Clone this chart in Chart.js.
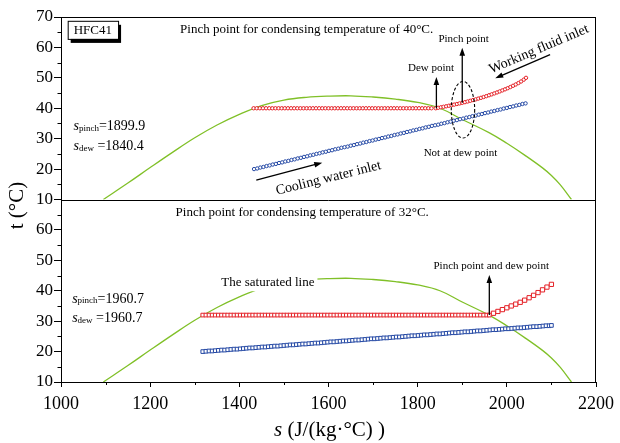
<!DOCTYPE html>
<html>
<head>
<meta charset="utf-8">
<script src="https://cdn.jsdelivr.net/npm/chart.js@4.4.1/dist/chart.umd.min.js"></script>
<style>
  html, body { margin: 0; padding: 0; background: #fff; }
</style>
</head>
<body>
<canvas id="chart" width="620" height="443"></canvas>
<script>
// saturated line (same curve in both panels)
const satS = [1095, 1150, 1200, 1250, 1300, 1350, 1400, 1450, 1500, 1550, 1600, 1650, 1700, 1750, 1800, 1850, 1900, 1960, 2000, 2040, 2080, 2100, 2120, 2145]
const satT = [10, 15.4, 20.5, 25.5, 30.3, 34.5, 38.0, 40.9, 42.7, 43.6, 44.0, 44.1, 43.7, 43.0, 41.9, 40.0, 36.3, 32.0, 28.5, 24.6, 20.4, 17.9, 14.8, 10]

// top panel: condensing at 40 C
const topCond = 40
const topFlatS = [1432, 1439, 1446, 1453, 1460, 1467, 1474, 1481, 1488, 1495, 1502, 1509, 1516, 1523, 1530, 1537, 1544, 1551, 1558, 1565,
  1572, 1579, 1586, 1593, 1600, 1607, 1614, 1621, 1628, 1635, 1642, 1649, 1656, 1663, 1670, 1677, 1684, 1691, 1698, 1705,
  1712, 1719, 1726, 1733, 1740, 1747, 1754, 1761, 1768, 1775, 1782, 1789, 1796, 1803, 1810, 1817, 1824, 1831, 1840.4]
const topSupS = [1846, 1852, 1858, 1864, 1870, 1876, 1882, 1888, 1894, 1900, 1906, 1912, 1918, 1924, 1930, 1936, 1942, 1948, 1954, 1960,
  1966, 1972, 1978, 1984, 1990, 1996, 2002, 2008, 2014, 2020, 2026, 2032, 2038, 2043]
const topSupT = [40.15, 40.31, 40.48, 40.65, 40.83, 41.01, 41.2, 41.39, 41.59, 41.79, 42.0, 42.22, 42.45, 42.68, 42.92, 43.17, 43.43, 43.7, 43.98, 44.27,
  44.57, 44.88, 45.2, 45.53, 45.87, 46.22, 46.59, 46.98, 47.39, 47.82, 48.28, 48.8, 49.4, 50.0]
const topWaterS = [1433, 1440, 1447, 1454, 1461, 1468, 1475, 1482, 1489, 1496, 1503, 1510, 1517, 1524, 1531, 1538, 1545, 1552, 1559, 1566,
  1573, 1580, 1587, 1594, 1601, 1608, 1615, 1622, 1629, 1636, 1643, 1650, 1657, 1664, 1671, 1678, 1685, 1692, 1699, 1706,
  1713, 1720, 1727, 1734, 1741, 1748, 1755, 1762, 1769, 1776, 1783, 1790, 1797, 1804, 1811, 1818, 1825, 1832, 1839, 1846,
  1853, 1860, 1867, 1874, 1881, 1888, 1895, 1902, 1909, 1916, 1923, 1930, 1937, 1944, 1951, 1958, 1965, 1972, 1979, 1986,
  1993, 2000, 2007, 2014, 2021, 2028, 2035, 2042]
const topWaterT = [20.0, 20.2, 20.5, 20.7, 21.0, 21.2, 21.5, 21.7, 22.0, 22.2, 22.5, 22.7, 23.0, 23.2, 23.5, 23.7, 24.0, 24.2, 24.5, 24.7,
  25.0, 25.2, 25.5, 25.7, 26.0, 26.2, 26.5, 26.7, 27.0, 27.2, 27.4, 27.7, 27.9, 28.2, 28.4, 28.7, 28.9, 29.2, 29.4, 29.7,
  29.9, 30.2, 30.4, 30.7, 30.9, 31.2, 31.4, 31.7, 31.9, 32.2, 32.4, 32.7, 32.9, 33.2, 33.4, 33.7, 33.9, 34.2, 34.4, 34.6,
  34.9, 35.1, 35.4, 35.6, 35.9, 36.1, 36.4, 36.6, 36.9, 37.1, 37.4, 37.6, 37.9, 38.1, 38.4, 38.6, 38.9, 39.1, 39.4, 39.6,
  39.9, 40.1, 40.4, 40.6, 40.9, 41.1, 41.4, 41.6]

// bottom panel: condensing at 32 C
const botCond = 32
const botFlatS = [1318, 1325, 1332, 1339, 1346, 1353, 1360, 1367, 1374, 1381, 1388, 1395, 1402, 1409, 1416, 1423, 1430, 1437, 1444, 1451,
  1458, 1465, 1472, 1479, 1486, 1493, 1500, 1507, 1514, 1521, 1528, 1535, 1542, 1549, 1556, 1563, 1570, 1577, 1584, 1591,
  1598, 1605, 1612, 1619, 1626, 1633, 1640, 1647, 1654, 1661, 1668, 1675, 1682, 1689, 1696, 1703, 1710, 1717, 1724, 1731,
  1738, 1745, 1752, 1759, 1766, 1773, 1780, 1787, 1794, 1801, 1808, 1815, 1822, 1829, 1836, 1843, 1850, 1857, 1864, 1871,
  1878, 1885, 1892, 1899, 1906, 1913, 1920, 1927, 1934, 1941, 1948, 1955, 1960.7]
const botSupS = [1970, 1980, 1990, 2000, 2010, 2020, 2030, 2040, 2050, 2060, 2070, 2080, 2090, 2100]
const botSupT = [32.6, 33.2, 33.8, 34.4, 35.0, 35.6, 36.2, 36.9, 37.7, 38.5, 39.4, 40.3, 41.2, 42.1]
const botWaterS = [1318, 1325, 1332, 1339, 1346, 1353, 1360, 1367, 1374, 1381, 1388, 1395, 1402, 1409, 1416, 1423, 1430, 1437, 1444, 1451,
  1458, 1465, 1472, 1479, 1486, 1493, 1500, 1507, 1514, 1521, 1528, 1535, 1542, 1549, 1556, 1563, 1570, 1577, 1584, 1591,
  1598, 1605, 1612, 1619, 1626, 1633, 1640, 1647, 1654, 1661, 1668, 1675, 1682, 1689, 1696, 1703, 1710, 1717, 1724, 1731,
  1738, 1745, 1752, 1759, 1766, 1773, 1780, 1787, 1794, 1801, 1808, 1815, 1822, 1829, 1836, 1843, 1850, 1857, 1864, 1871,
  1878, 1885, 1892, 1899, 1906, 1913, 1920, 1927, 1934, 1941, 1948, 1955, 1962, 1969, 1976, 1983, 1990, 1997, 2004, 2011,
  2018, 2025, 2032, 2039, 2046, 2053, 2060, 2067, 2074, 2081, 2088, 2095, 2100]
const botWaterT = [20.0, 20.1, 20.2, 20.2, 20.3, 20.4, 20.5, 20.5, 20.6, 20.7, 20.8, 20.8, 20.9,
  21.0, 21.1, 21.2, 21.2, 21.3, 21.4, 21.5, 21.5, 21.6, 21.7, 21.8, 21.8, 21.9,
  22.0, 22.1, 22.2, 22.2, 22.3, 22.4, 22.5, 22.5, 22.6, 22.7, 22.8, 22.8, 22.9,
  23.0, 23.1, 23.2, 23.2, 23.3, 23.4, 23.5, 23.5, 23.6, 23.7, 23.8, 23.8, 23.9,
  24.0, 24.1, 24.2, 24.2, 24.3, 24.4, 24.5, 24.5, 24.6, 24.7, 24.8, 24.8, 24.9,
  25.0, 25.1, 25.2, 25.2, 25.3, 25.4, 25.5, 25.5, 25.6, 25.7, 25.8, 25.8, 25.9,
  26.0, 26.1, 26.2, 26.2, 26.3, 26.4, 26.5, 26.5, 26.6, 26.7, 26.8, 26.8, 26.9,
  27.0, 27.1, 27.2, 27.2, 27.3, 27.4, 27.5, 27.5, 27.6, 27.7, 27.8, 27.8, 27.9,
  28.0, 28.1, 28.2, 28.2, 28.3, 28.4, 28.5, 28.5, 28.6]

const sTicks = [1000, 1200, 1400, 1600, 1800, 2000, 2200]
const tTicks = [10, 20, 30, 40, 50, 60, 70]

const pinchTop = '1899.9', dewTop = '1840.4'
const pinchBot = '1960.7', dewBot = '1960.7'

const RED = 'rgb(228,32,38)'
const BLUE = 'rgb(36,72,164)'
const GREEN = 'rgb(128,192,40)'
const SERIF = '"Liberation Serif", "DejaVu Serif", serif'

const pts = (xs, ys) => xs.map((s, i) => ({ x: s, y: Array.isArray(ys) ? ys[i] : ys }))

const markerSet = (data, axis, color, style, r) => ({
    data: data,
    yAxisID: axis,
    showLine: false,
    pointStyle: style,
    pointRadius: r,
    pointBorderWidth: 1,
    pointBorderColor: color,
    pointBackgroundColor: '#fff',
    order: 1
})

const satSet = (axis) => ({
    data: pts(satS, satT),
    yAxisID: axis,
    showLine: true,
    borderColor: GREEN,
    borderWidth: 1.3,
    pointRadius: 0,
    tension: 0.4,
    order: 2
})

// helpers for the annotation plugin
function arrow(ctx, x1, y1, x2, y2) {
    const a = Math.atan2(y2 - y1, x2 - x1), L = 8, W = 2.8
    ctx.beginPath()
    ctx.moveTo(x1, y1)
    ctx.lineTo(x2 - 6 * Math.cos(a), y2 - 6 * Math.sin(a))
    ctx.stroke()
    ctx.beginPath()
    ctx.moveTo(x2, y2)
    ctx.lineTo(x2 - L * Math.cos(a) + W * Math.sin(a), y2 - L * Math.sin(a) - W * Math.cos(a))
    ctx.lineTo(x2 - L * Math.cos(a) - W * Math.sin(a), y2 - L * Math.sin(a) + W * Math.cos(a))
    ctx.closePath()
    ctx.fill()
}

function runs(ctx, x, y, parts) {
    let cx = x
    for (const [txt, font, dy] of parts) {
        ctx.font = font
        ctx.fillText(txt, cx, y + (dy || 0))
        cx += ctx.measureText(txt).width
    }
}

function runsWidth(ctx, parts) {
    let w = 0
    for (const [txt, font] of parts) { ctx.font = font; w += ctx.measureText(txt).width }
    return w
}

const decor = {
    id: 'decor',
    afterDraw(chart) {
        const { ctx, chartArea: a } = chart
        const x = chart.scales.x, yT = chart.scales.yTop, yB = chart.scales.yBot
        const X = s => x.getPixelForValue(s)
        const T = t => yT.getPixelForValue(t)
        const B = t => yB.getPixelForValue(t)
        ctx.save()
        ctx.strokeStyle = '#000'
        ctx.fillStyle = '#000'

        // frame and panel divider
        ctx.lineWidth = 1
        ctx.strokeRect(a.left + 0.5, a.top + 0.5, a.right - a.left - 1, a.bottom - a.top)
        ctx.beginPath()
        ctx.moveTo(a.left, Math.round(yT.bottom) + 0.5)
        ctx.lineTo(a.right, Math.round(yT.bottom) + 0.5)
        ctx.stroke()

        // minor ticks
        ctx.beginPath()
        for (let v = 15; v < 70; v += 10) {
            for (const sc of [yT, yB]) {
                const py = Math.round(sc.getPixelForValue(v)) + 0.5
                ctx.moveTo(a.left, py); ctx.lineTo(a.left - 3.5, py)
            }
        }
        for (let s = 1100; s < 2200; s += 200) {
            const px = Math.round(X(s)) + 0.5
            ctx.moveTo(px, a.bottom); ctx.lineTo(px, a.bottom + 3)
        }
        ctx.stroke()

        // panel titles
        ctx.textBaseline = 'middle'
        ctx.textAlign = 'center'
        ctx.font = '13px ' + SERIF
        ctx.fillText('Pinch point for condensing temperature of 40°C.', X(1551), T(65.9))
        ctx.fillText('Pinch point for condensing temperature of 32°C.', X(1541), B(65.7))

        // HFC41 box with shadow
        const bx = X(1015), by = T(68.75), bw = X(1128) - bx, bh = T(62.8) - by
        ctx.fillRect(bx + 3, by + 4, bw, bh)
        ctx.fillStyle = '#fff'
        ctx.fillRect(bx, by, bw, bh)
        ctx.strokeRect(bx + 0.5, by + 0.5, bw, bh)
        ctx.fillStyle = '#000'
        ctx.fillText('HFC41', bx + bw / 2, by + bh / 2 + 1)

        // s values
        ctx.textAlign = 'left'
        const it = 'italic 14px ' + SERIF, rg = '14px ' + SERIF, sm = '9px ' + SERIF
        runs(ctx, X(1028), T(34.0), [['s', it], ['pinch', sm, 2], ['=' + pinchTop, rg]])
        runs(ctx, X(1028), T(27.4), [['s', it], ['dew', sm, 2], [' =' + dewTop, rg]])
        runs(ctx, X(1025), B(37.3), [['s', it], ['pinch', sm, 2], ['=' + pinchBot, rg]])
        runs(ctx, X(1025), B(30.9), [['s', it], ['dew', sm, 2], [' =' + dewBot, rg]])

        // top panel notes
        ctx.textAlign = 'center'
        ctx.font = '11px ' + SERIF
        ctx.fillText('Dew point', X(1830), T(53.3))
        ctx.fillText('Pinch point', X(1903), T(62.8))
        ctx.fillText('Not at dew point', X(1896), T(25.2))
        ctx.lineWidth = 1.3
        arrow(ctx, X(1842), T(40), X(1842), T(50.3))
        arrow(ctx, X(1900), T(41.8), X(1900), T(59.9))
        arrow(ctx, X(2097), T(57.6), X(1974), T(49.9))
        arrow(ctx, X(1438), T(16.4), X(1586), T(22.1))

        ctx.lineWidth = 1.1
        ctx.setLineDash([3, 2])
        ctx.beginPath()
        ctx.ellipse(X(1901.6), T(39.5), 11.7, 28.3, 0, 0, Math.PI * 2)
        ctx.stroke()
        ctx.setLineDash([])

        ctx.font = '14px ' + SERIF
        ctx.save()
        ctx.translate(X(2072), T(59.4))
        ctx.rotate(-23 * Math.PI / 180)
        ctx.fillText('Working fluid inlet', 0, 0)
        ctx.restore()
        ctx.save()
        ctx.translate(X(1600), T(17.0))
        ctx.rotate(-14 * Math.PI / 180)
        ctx.fillText('Cooling water inlet', 0, 0)
        ctx.restore()

        // bottom panel notes
        ctx.font = '13px ' + SERIF
        const lbl = 'The saturated line'
        const lw = ctx.measureText(lbl).width
        ctx.fillStyle = '#fff'
        ctx.fillRect(X(1464) - lw / 2 - 3, B(42.8) - 9, lw + 6, 18)
        ctx.fillStyle = '#000'
        ctx.fillText(lbl, X(1464), B(42.8))
        ctx.font = '11px ' + SERIF
        ctx.fillText('Pinch point and dew point', X(1965), B(48.1))
        ctx.lineWidth = 1.3
        arrow(ctx, X(1960.7), B(32), X(1960.7), B(45.2))

        // axis titles
        ctx.save()
        ctx.translate(17, (a.top + a.bottom) / 2 + 6)
        ctx.rotate(-Math.PI / 2)
        ctx.font = '21px ' + SERIF
        ctx.fillText('t (°C)', 0, 0)
        ctx.restore()

        const xt = [['s', 'italic 21px ' + SERIF], [' (J/(kg·°C) )', '21px ' + SERIF]]
        const w = runsWidth(ctx, xt)
        ctx.textAlign = 'left'
        runs(ctx, (a.left + a.right) / 2 - w / 2 + 1, 430, xt)

        ctx.restore()
    }
}

const yAxis = (hideTop) => ({
    type: 'linear',
    position: 'left',
    stack: 'panels',
    stackWeight: 1,
    min: 10,
    max: 70,
    afterBuildTicks: sc => { sc.ticks = tTicks.map(v => ({ value: v })) },
    afterFit: sc => { sc.width = 61 },
    ticks: {
        color: '#000',
        padding: 1,
        autoSkip: false,
        font: { family: SERIF, size: 17 },
        callback: v => (hideTop && v === 70) ? '' : String(v)
    },
    grid: { drawOnChartArea: false, color: '#000', tickLength: 7 },
    border: { color: '#000', width: 1 }
})

const chart = new Chart(document.getElementById('chart'), {
    type: 'scatter',
    data: {
        datasets: [
            markerSet(pts(topFlatS, topCond).concat(pts(topSupS, topSupT)), 'yTop', RED, 'circle', 1.7),
            markerSet(pts(topWaterS, topWaterT), 'yTop', BLUE, 'circle', 1.7),
            markerSet(pts(botFlatS, botCond), 'yBot', RED, 'rect', 2.6),
            markerSet(pts(botSupS, botSupT), 'yBot', RED, 'rect', 3.0),
            markerSet(pts(botWaterS, botWaterT), 'yBot', BLUE, 'rect', 2.6),
            satSet('yTop'),
            satSet('yBot')
        ]
    },
    options: {
        responsive: false,
        animation: false,
        layout: { padding: { top: 17, right: 22, left: 0, bottom: 0 } },
        plugins: { legend: { display: false }, tooltip: { enabled: false } },
        scales: {
            x: {
                type: 'linear',
                min: 1000,
                max: 2200,
                afterBuildTicks: sc => { sc.ticks = sTicks.map(v => ({ value: v })) },
                afterFit: sc => { sc.height = 61 },
                ticks: {
                    color: '#000',
                    padding: 6,
                    maxRotation: 0,
                    autoSkip: false,
                    font: { family: SERIF, size: 18 },
                    callback: v => String(v)
                },
                grid: { drawOnChartArea: false, color: '#000', tickLength: 5 },
                border: { color: '#000', width: 1 }
            },
            yBot: yAxis(true),
            yTop: yAxis(false)
        }
    },
    plugins: [decor]
})
</script>
</body>
</html>
